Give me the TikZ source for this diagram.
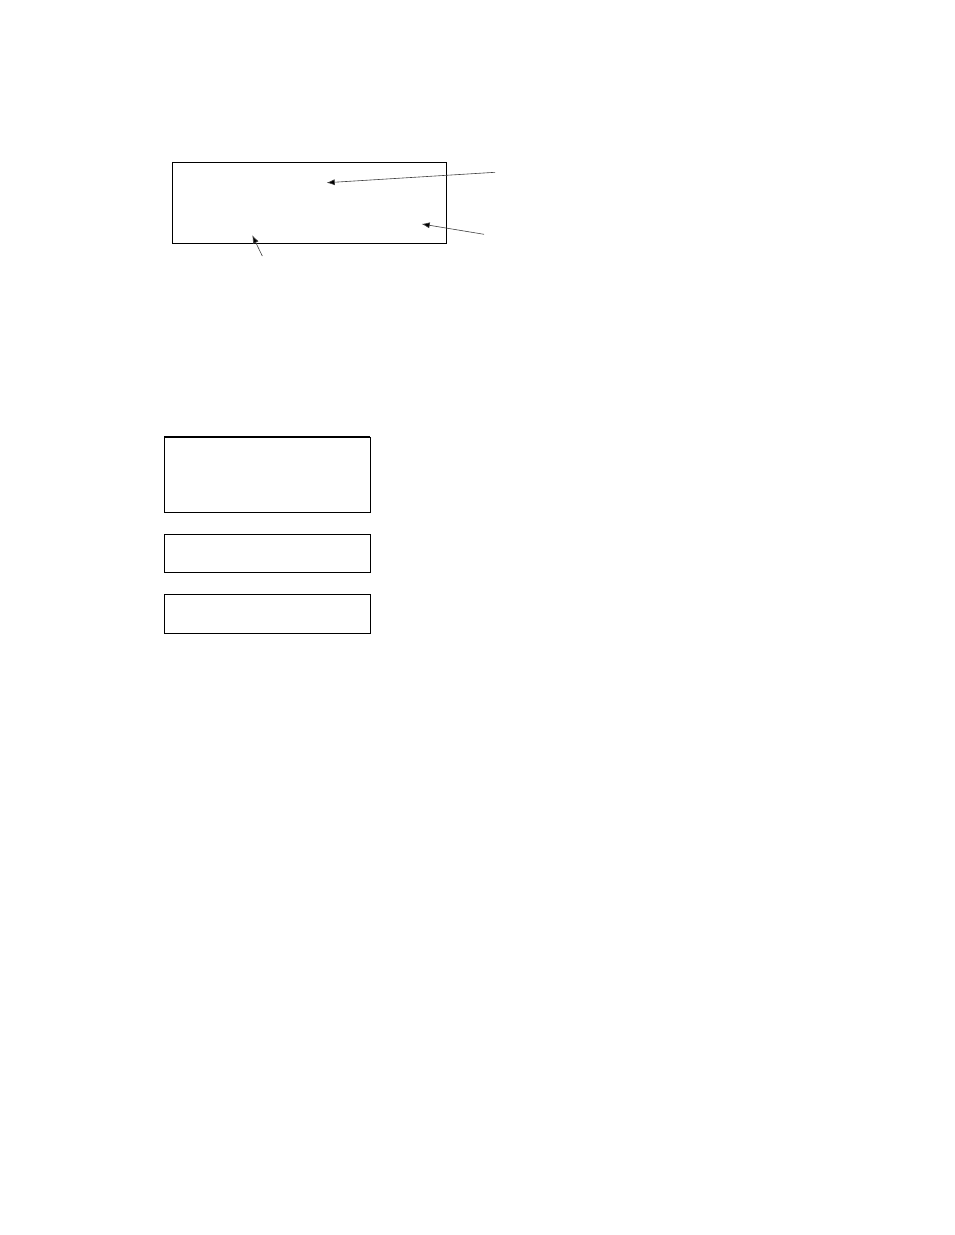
\documentclass[tikz,border=0pt]{standalone}
\usetikzlibrary{arrows.meta}
\begin{document}
\begin{tikzpicture}[x=1pt,y=-1pt,
  boxstyle/.style={draw=black,line width=1pt,rectangle,inner sep=0pt,outer sep=0pt},
  pointer/.style={draw=black!75,line width=0.6pt,-{Latex[length=8pt,width=6pt,fill=black]}}]
\useasboundingbox[fill=white] (0,0) rectangle (954,1235);
% top box
\node[boxstyle,minimum width=274.4pt,minimum height=80.7pt,anchor=north west] (top) at (172.3,162.3) {};
\coordinate (s1) at (495,172.3);
\coordinate (t1) at (326.7,182.7);
\coordinate (s2) at (484,234.3);
\coordinate (t2) at (421.7,224);
\coordinate (s3) at (262.3,256);
\coordinate (t3) at (252.3,235.3);
\draw[pointer] (s1) -- (t1);
\draw[pointer] (s2) -- (t2);
\draw[pointer] (s3) -- (t3);
% lower boxes
\node[boxstyle,minimum width=206pt,minimum height=75.3pt,anchor=north west] (boxa) at (164.3,437) {};
\draw[line width=2pt] (boxa.north west) -- (boxa.north east);
\node[boxstyle,minimum width=206pt,minimum height=37.7pt,anchor=north west] (boxb) at (164.3,534.3) {};
\node[boxstyle,minimum width=206pt,minimum height=39pt,anchor=north west] (boxc) at (164.3,594.3) {};
\end{tikzpicture}
\end{document}
